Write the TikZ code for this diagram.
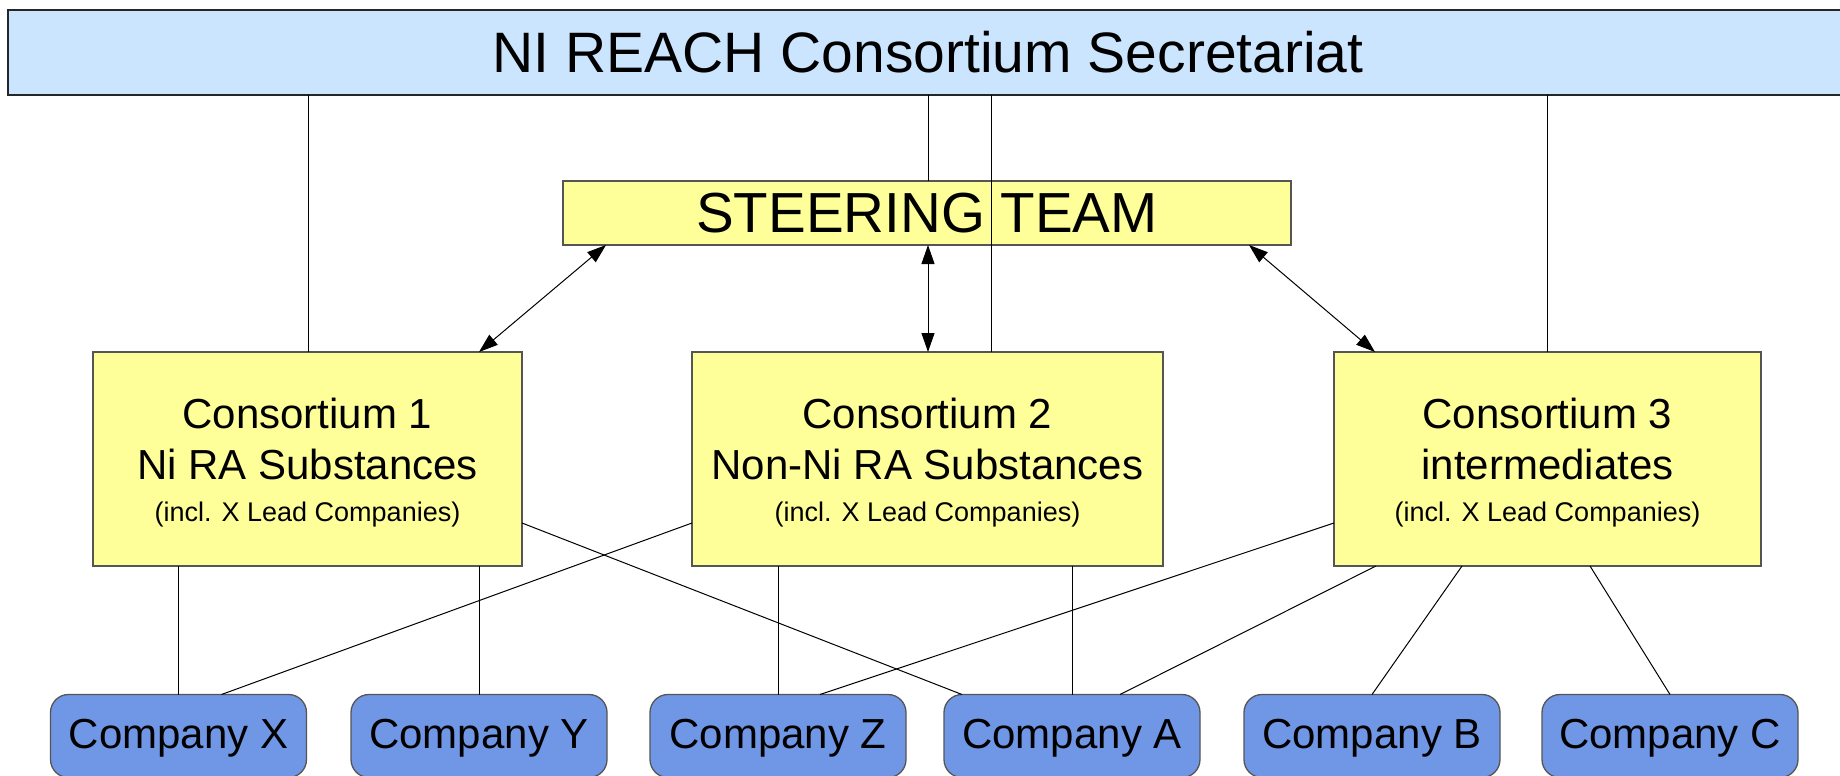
\documentclass[tikz,border=0pt]{standalone}
\usepackage{fontspec}
\setmainfont{Liberation Sans}
\usetikzlibrary{arrows.meta,calc}
\definecolor{barblue}{RGB}{204,229,255}
\definecolor{padyellow}{RGB}{255,255,153}
\definecolor{compblue}{RGB}{112,151,230}
\definecolor{edgegray}{RGB}{85,85,85}
\newcommand\smallline[1]{{\fontsize{27}{37}\selectfont #1}}
\newcommand\topstrut{\rule{0pt}{38pt}}
\begin{document}
\begin{tikzpicture}[x=1pt,y=-1pt,
  boxbase/.style={rectangle, draw=edgegray, line width=1.3pt, inner sep=0pt, outer sep=0pt, text=black},
  barbox/.style={boxbase, draw=black!85, fill=barblue, minimum width=1840pt, minimum height=85pt, font=\fontsize{57}{68}\selectfont},
  steerbox/.style={boxbase, fill=padyellow, minimum width=728pt, minimum height=64pt, font=\fontsize{56.5}{68}\selectfont},
  consbox/.style={boxbase, fill=padyellow, minimum height=214pt, align=center, font=\fontsize{42}{51}\selectfont},
  compbox/.style={boxbase, fill=compblue, rounded corners=18pt, minimum width=256pt, minimum height=83pt, font=\fontsize{42}{50}\selectfont},
  link/.style={draw=black, line width=1pt},
  twoway/.style={draw=black, line width=1pt, {Triangle[length=19pt,width=13pt]}-{Triangle[length=19pt,width=13pt]}}
]
\useasboundingbox (0,0) rectangle (1840,776);
\fill[white] (0,0) rectangle (1840,776);

% nodes
\node[barbox] (bar) at (928,52.5) {NI REACH Consortium Secretariat};
\node[steerbox] (st) at (927,213) {STEERING TEAM};
\node[consbox, minimum width=429pt] (c1) at (307.5,459) {\topstrut Consortium 1\\Ni RA Substances\\[-9.5pt]\smallline{(incl. X Lead Companies)}};
\node[consbox, minimum width=471pt] (c2) at (927.5,459) {\topstrut Consortium 2\\Non-Ni RA Substances\\[-9.5pt]\smallline{(incl. X Lead Companies)}};
\node[consbox, minimum width=427pt] (c3) at (1547.5,459) {\topstrut Consortium 3\\intermediates\\[-9.5pt]\smallline{(incl. X Lead Companies)}};

\node[compbox] (cx) at (178.5,736) {\rule{0pt}{33pt}Company X};
\node[compbox] (cy) at (479,736) {\rule{0pt}{33pt}Company Y};
\node[compbox] (cz) at (778,736) {\rule{0pt}{33pt}Company Z};
\node[compbox] (ca) at (1072,736) {\rule{0pt}{33pt}Company A};
\node[compbox] (cb) at (1372,736) {\rule{0pt}{33pt}Company B};
\node[compbox] (cc) at (1670,736) {\rule{0pt}{33pt}Company C};

% secretariat links
\draw[link] ($(c1.north)+(1,0)$) -- ($(c1.north |- bar.south)+(1,0)$);
\draw[link] ($(st.north)+(1,0)$) -- ($(st.north |- bar.south)+(1,0)$);
\draw[link] ($(c2.north)+(64,0)$) -- ($(c2.north |- bar.south)+(64,0)$);
\draw[link] (c3.north) -- (c3.north |- bar.south);

% steering team arrows
\draw[twoway] ($(st.south west)+(43,0)$) -- ($(c1.north east)+(-43,0)$);
\draw[twoway] ($(st.south)+(1,0)$) -- ($(c2.north)+(0.5,0)$);
\draw[twoway] ($(st.south east)+(-42,0)$) -- ($(c3.north west)+(41,0)$);

% consortium to company links
\draw[link] (cx.north) -- (cx.north |- c1.south);
\draw[link] (cy.north) -- (cy.north |- c1.south);
\draw[link] ($(c1.south east)+(0,-43)$) -- ($(ca.north west)+(18,0)$);
\draw[link] ($(c2.south west)+(0,-43)$) -- ($(cx.north)+(43,0)$);
\draw[link] (cz.north) -- (cz.north |- c2.south);
\draw[link] (ca.north) -- (ca.north |- c2.south);
\draw[link] ($(c3.south west)+(0,-43)$) -- ($(cz.north)+(42,0)$);
\draw[link] ($(c3.south west)+(42,0)$) -- ($(ca.north)+(48,0)$);
\draw[link] ($(c3.south west)+(128,0)$) -- (cb.north);
\draw[link] ($(c3.south west)+(256,0)$) -- (cc.north);
\end{tikzpicture}
\end{document}
